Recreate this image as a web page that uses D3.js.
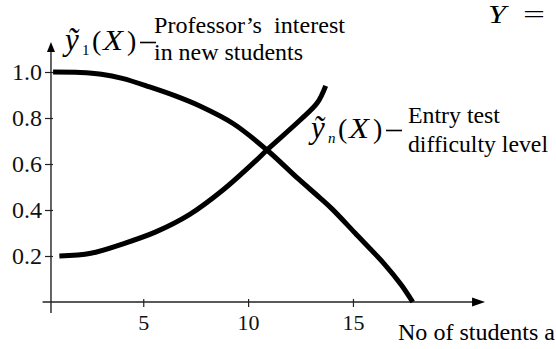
<!DOCTYPE html>
<html>
<head>
<meta charset="utf-8">
<script src="https://cdn.jsdelivr.net/npm/d3@7"></script>
<style>
  body { margin: 0; background: #fff; }
  svg text { font-family: "Liberation Serif", "DejaVu Serif", serif !important; white-space: pre; }
</style>
</head>
<body>
<div class="chart"></div>
<script>
// Data
let xTicks = [5, 10, 15];
let yTicks = [0.2, 0.4, 0.6, 0.8, 1.0];

// professor's interest in new students, y1(X)
let interestX = [0.7, 2, 3, 4, 5.3, 6.5, 7.7, 9.3, 10.9, 12.4, 13.4, 14.0, 15.1, 16.5, 17.3, 17.85];
let interestY = [1.0, 0.998, 0.99, 0.972, 0.935, 0.897, 0.852, 0.775, 0.661, 0.535, 0.455, 0.405, 0.30, 0.165, 0.075, 0.0];

// entry test difficulty level, yn(X)
let difficultyX = [1.0, 2.5, 4.0, 5.6, 7.2, 8.8, 10.4, 10.9, 12.47, 13.3, 13.7];
let difficultyY = [0.2, 0.212, 0.252, 0.305, 0.38, 0.487, 0.617, 0.661, 0.79, 0.866, 0.94];

let svgWidth = 556;
let svgHeight = 349;
let serif = "Liberation Serif, DejaVu Serif, serif";

let svg = d3.select(".chart")
  .append("svg")
  .attr("width", svgWidth)
  .attr("height", svgHeight)
  .attr("font-family", serif);

// Scales
let x = d3.scaleLinear().domain([0, 20]).range([38.4, 457.8]);
let y = d3.scaleLinear().domain([0, 1]).range([302, 72]);

let axisColor = "#222";

// x axis line with arrow
svg.append("line")
  .attr("x1", x(0.2)).attr("x2", x(21.0))
  .attr("y1", y(0)).attr("y2", y(0))
  .attr("stroke", axisColor).attr("stroke-width", 1.4);
svg.append("path")
  .attr("d", `M${x(21.3)},${y(0)} L${x(21.3) - 13},${y(0) - 4.5} L${x(21.3) - 13},${y(0) + 4.5} Z`)
  .attr("fill", "#000");

// y axis line with arrow
svg.append("line")
  .attr("x1", x(0.6)).attr("x2", x(0.6))
  .attr("y1", y(-0.048)).attr("y2", y(1.1))
  .attr("stroke", axisColor).attr("stroke-width", 1.4);
svg.append("path")
  .attr("d", `M${x(0.6)},${y(1.13)} L${x(0.6) - 4},${y(1.13) + 10} L${x(0.6) + 4},${y(1.13) + 10} Z`)
  .attr("fill", "#000");

// Axes (ticks and labels only)
let bottomAxis = d3.axisBottom(x).tickValues(xTicks).tickSize(5).tickPadding(7);
let leftAxis = d3.axisLeft(y).tickValues(yTicks).tickSize(6).tickPadding(3)
  .tickFormat(d3.format(".1f"));

let gx = svg.append("g")
  .attr("transform", `translate(0, ${y(0)})`)
  .call(bottomAxis)
  .attr("font-family", serif)
  .attr("font-size", 22);
gx.select(".domain").remove();
gx.selectAll(".tick line").attr("y1", -3).attr("stroke", axisColor).attr("stroke-width", 1.2);
gx.selectAll(".tick text").attr("fill", "#111");

let gy = svg.append("g")
  .attr("transform", `translate(${x(0.6)}, 0)`)
  .call(leftAxis)
  .attr("font-family", serif)
  .attr("font-size", 23);
gy.select(".domain").remove();
gy.selectAll(".tick line").attr("x1", 2).attr("stroke", axisColor).attr("stroke-width", 1.2);
gy.selectAll(".tick text").attr("fill", "#111")
  .attr("textLength", 30).attr("lengthAdjust", "spacingAndGlyphs");

// Curves
let line = d3.line()
  .x(d => x(d[0]))
  .y(d => y(d[1]))
  .curve(d3.curveCatmullRom.alpha(0.5));

svg.append("path")
  .datum(d3.zip(interestX, interestY))
  .attr("d", line)
  .attr("fill", "none")
  .attr("stroke", "#000")
  .attr("stroke-width", 5);

svg.append("path")
  .datum(d3.zip(difficultyX, difficultyY))
  .attr("d", line)
  .attr("fill", "none")
  .attr("stroke", "#000")
  .attr("stroke-width", 5);

// Annotations
function label(g, tx, ty, size, str, width, italic) {
  let t = g.append("text").attr("x", tx).attr("y", ty).attr("font-size", size).text(str);
  if (width) t.attr("textLength", width).attr("lengthAdjust", "spacingAndGlyphs");
  if (italic) t.attr("font-style", "italic");
  return t;
}

// y-tilde with subscript and (X) as one text, then a dash
function formula(g, x0, base, sub, subItalic) {
  let t = g.append("text").attr("font-size", 28);
  t.append("tspan").attr("x", x0).attr("y", base)
    .attr("font-size", 31).attr("font-style", "italic").text("ỹ");
  t.append("tspan").attr("x", x0 + 17).attr("y", base + 5)
    .attr("font-size", 15).attr("font-style", subItalic ? "italic" : "normal").text(sub);
  t.append("tspan").attr("x", x0 + 27).attr("y", base).text("(");
  t.append("tspan").attr("x", x0 + 38).attr("y", base)
    .attr("font-size", 29).attr("font-style", "italic")
    .attr("textLength", 20).attr("lengthAdjust", "spacingAndGlyphs").text("X");
  t.append("tspan").attr("x", x0 + 62).attr("y", base).text(")");
  g.append("line")
    .attr("x1", x0 + 75).attr("x2", x0 + 91)
    .attr("y1", base - 7.5).attr("y2", base - 7.5)
    .attr("stroke", "#000").attr("stroke-width", 1.6);
}

let notes = svg.append("g").attr("fill", "#000");

formula(notes, 65, 50, "1", false);
label(notes, 154, 33, 23, "Professor’s  interest", 191);
label(notes, 154, 60, 23, "in new students", 149);

formula(notes, 311, 138, "n", true);
label(notes, 408, 123, 24, "Entry test", 92);
label(notes, 408, 152, 24, "difficulty level", 140);

label(notes, 398, 340, 24, "No of students a", 157);

label(notes, 488, 23, 25, "Y", 18, true);
label(notes, 523, 23, 25, "=", 22, false);
</script>
</body>
</html>
